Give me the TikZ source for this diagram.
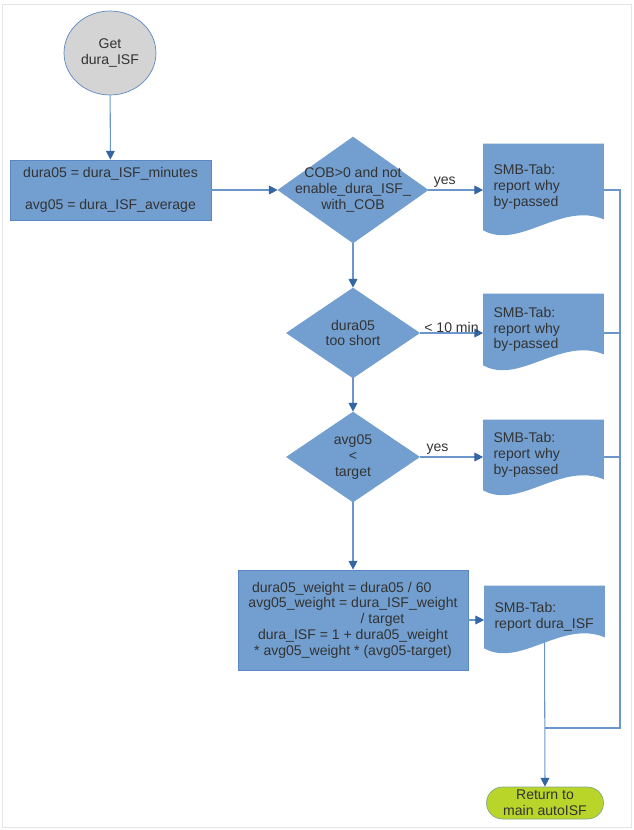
\documentclass[tikz,border=0pt]{standalone}
\usepackage{fontspec}
\setmainfont{Liberation Sans}
\usepackage{tikz}
\usetikzlibrary{shapes.geometric, arrows.meta, backgrounds}

\definecolor{boxblue}{HTML}{729FCF}
\definecolor{edgeblue}{HTML}{5B88C4}
\definecolor{lineblue}{HTML}{6B96CC}
\definecolor{headblue}{HTML}{3465A4}
\definecolor{startgray}{HTML}{D4D4D4}
\definecolor{endgreen}{HTML}{B9D52A}
\definecolor{textgray}{HTML}{333333}

\tikzset{
	base/.style={font=\fontsize{8}{9}\selectfont, text=textgray, inner sep=0pt},
	startnode/.style={base, ellipse, draw=edgeblue, fill=startgray, minimum width=1.84cm, minimum height=1.68cm, align=center},
	process/.style={base, rectangle, draw=edgeblue, fill=boxblue, align=center},
	decision/.style={base, diamond, draw=boxblue, fill=boxblue},
	docbox/.style={base, rectangle, text width=2.0cm, inner xsep=0.2cm, minimum width=2.38cm, align=left},
	endnode/.style={base, rectangle, rounded corners=0.32cm, draw=edgeblue!60!endgreen, fill=endgreen, minimum width=2.34cm, minimum height=0.64cm, align=center},
	flow/.style={draw=lineblue, line width=0.6pt, -{Triangle[length=5pt,width=5pt,color=headblue]}},
	bus/.style={draw=lineblue, line width=0.6pt},
	edgelabel/.style={base, fill=none}
}

% wavy bottom of a document node
\newcommand{\docshape}[1]{%
	\fill[boxblue] (#1.south west) -- (#1.north west) -- (#1.north east) -- ([yshift=0.22cm]#1.south east)
		.. controls +(-0.86cm,0.36cm) and +(0.72cm,-0.4cm) .. (#1.south west) -- cycle;}

\begin{document}
\begin{tikzpicture}[x=0.02cm, y=-0.02cm]
	\useasboundingbox (0,0) rectangle (633,830);
	% page frame
	\draw[black!10] (2,4) rectangle (631,827);

	% Nodes
	\node[startnode] (get) at (110,53) {Get\\dura\_ISF};
	\node[process, minimum width=4.02cm, minimum height=1.2cm] (set) at (110.5,190)
		{dura05 = dura\_ISF\_minutes\\[9pt]avg05 = dura\_ISF\_average};
	\node[decision, minimum width=3.0cm, minimum height=2.12cm,
		label={[base, align=center]center:COB>0 and not\\enable\_dura\_ISF\_\\with\_COB}] (cob) at (353,190) {};
	\node[decision, minimum width=2.66cm, minimum height=1.8cm,
		label={[base, align=center]center:dura05\\too short}] (short) at (353,333) {};
	\node[decision, minimum width=2.66cm, minimum height=1.8cm,
		label={[base, align=center]center:avg05\\<\\target}] (low) at (353,457) {};
	\node[process, minimum width=4.6cm, minimum height=2.0cm] (calc) at (353,620)
		{dura05\_weight = dura05 / 60\hspace*{1.6em}\\
		 avg05\_weight = dura\_ISF\_weight\\
		 \hspace*{4.2em}/ target\\
		 dura\_ISF = 1 + dura05\_weight\\
		 * avg05\_weight * (avg05-target)};

	\node[docbox, minimum height=1.72cm] (doc1) at (543.5,187) {SMB-Tab:\\report why\\by-passed};
	\node[docbox, minimum height=1.42cm] (doc2) at (543.5,329.5) {SMB-Tab:\\report why\\by-passed};
	\node[docbox, minimum height=1.4cm] (doc3) at (543.5,455) {SMB-Tab:\\report why\\by-passed};
	\node[docbox, minimum width=2.34cm, minimum height=1.24cm] (doc4) at (544.5,617) {SMB-Tab:\\report dura\_ISF};
	\begin{scope}[on background layer]
		\foreach \d in {doc1,doc2,doc3,doc4} {\docshape{\d}}
	\end{scope}

	\node[endnode] (end) at (545,803) {Return to\\main autoISF};
	\coordinate (busend) at (620,728);

	% Connectors
	\draw[flow] (get) -- (set);
	\draw[flow] (set) -- (cob);
	\draw[flow] (cob) -- (short);
	\draw[flow] (short) -- (low);
	\draw[flow] (low) -- (calc);
	\draw[flow] (cob.east) -- (cob.east -| doc1.west) node[edgelabel, pos=0.3, above=1pt] {yes};
	\draw[flow] (short.east) -- (short.east -| doc2.west) node[edgelabel, pos=0.5, above=0pt] {< 10 min};
	\draw[flow] (low.east) -- (low.east -| doc3.west) node[edgelabel, pos=0.28, above=1pt] {yes};
	\draw[flow] (calc.east) -- (calc.east -| doc4.west);
	\draw[flow] ([yshift=0.16cm]doc4.south) -- (end.north);

	% Return lines
	\draw[bus] (doc1.east |- cob.east) -- (cob.east -| busend) -- (busend) -- (busend -| end.north);
	\draw[bus] (doc2.east |- short.east) -- (short.east -| busend);
	\draw[bus] (doc3.east |- low.east) -- (low.east -| busend);
\end{tikzpicture}
\end{document}
